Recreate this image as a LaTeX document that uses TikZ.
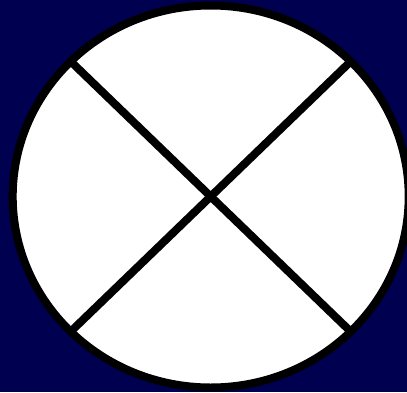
\documentclass[tikz,border=0pt]{standalone}
\definecolor{navybg}{RGB}{0,0,80}
\begin{document}
\begin{tikzpicture}[x=1pt,y=-1pt,
  ring/.style={draw=black, fill=white, line width=8pt},
  cross/.style={draw=black, line width=8pt}]
\fill[navybg] (0,0) rectangle (407,392);
\useasboundingbox (0,0) rectangle (407,392);
\draw[ring] (210.7,196.5) ellipse [x radius=198, y radius=191];
\coordinate (tl) at (70.8,61.5);
\coordinate (tr) at (350.6,61.5);
\coordinate (bl) at (70.8,331.5);
\coordinate (br) at (350.6,331.5);
\draw[cross] (tl) -- (br);
\draw[cross] (tr) -- (bl);
\end{tikzpicture}
\end{document}
